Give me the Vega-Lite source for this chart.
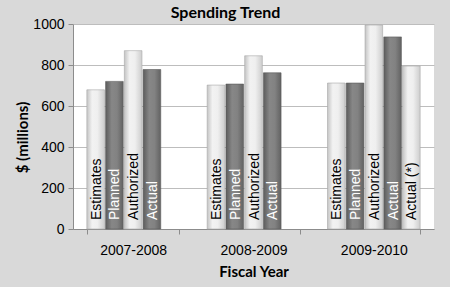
{
  "$schema": "https://vega.github.io/schema/vega-lite/v6.json",
  "width": 361,
  "height": 205,
  "autosize": {"type": "none"},
  "padding": {"left": 73, "top": 24, "right": 16, "bottom": 58},
  "background": "#d9d9d9",
  "title": {
    "text": "Spending Trend",
    "anchor": "middle",
    "dx": -28,
    "dy": 25,
    "baseline": "bottom",
    "offset": 5,
    "font": "Lato",
    "fontSize": 16,
    "fontWeight": "bold",
    "color": "#000000"
  },
  "config": {
    "view": {"fill": "#ffffff", "stroke": null},
    "axis": {
      "labelFont": "Liberation Sans",
      "labelFontSize": 14,
      "labelColor": "#000000",
      "titleFont": "Lato",
      "titleFontSize": 15,
      "titleFontWeight": "bold",
      "titleColor": "#000000",
      "domainColor": "#8c8c8c",
      "tickColor": "#8c8c8c",
      "gridColor": "#bdbdbd",
      "tickSize": 5
    }
  },
  "data": {
    "values": [
      {"year": "2007-2008", "series": "Estimates", "value": 679},
      {"year": "2007-2008", "series": "Planned", "value": 720},
      {"year": "2007-2008", "series": "Authorized", "value": 870},
      {"year": "2007-2008", "series": "Actual", "value": 778},
      {"year": "2008-2009", "series": "Estimates", "value": 702},
      {"year": "2008-2009", "series": "Planned", "value": 707},
      {"year": "2008-2009", "series": "Authorized", "value": 845},
      {"year": "2008-2009", "series": "Actual", "value": 762},
      {"year": "2009-2010", "series": "Estimates", "value": 712},
      {"year": "2009-2010", "series": "Planned", "value": 712},
      {"year": "2009-2010", "series": "Authorized", "value": 995},
      {"year": "2009-2010", "series": "Actual", "value": 937},
      {"year": "2009-2010", "series": "Actual (*)", "value": 795}
    ]
  },
  "encoding": {
    "x": {
      "field": "year",
      "type": "nominal",
      "title": "Fiscal Year",
      "scale": {"paddingInner": 0.23, "paddingOuter": 0.115},
      "axis": {"labelAngle": 0, "tickBand": "extent", "labelPadding": 9, "titlePadding": 7, "grid": false}
    },
    "xOffset": {
      "field": "series",
      "type": "nominal",
      "scale": {
        "domain": ["Estimates", "Planned", "Authorized", "Actual", "Actual (*)"],
        "paddingInner": 0.06,
        "paddingOuter": 0
      }
    }
  },
  "layer": [
    {
      "transform": [{"filter": "datum.series === 'Estimates' || datum.series === 'Authorized' || datum.series === 'Actual (*)'"}],
      "mark": {
        "type": "bar",
        "stroke": "#a8a8a8",
        "strokeWidth": 0.6,
        "color": {
          "gradient": "linear",
          "x1": 0, "y1": 0, "x2": 1, "y2": 0,
          "stops": [
            {"offset": 0, "color": "#c4c4c4"},
            {"offset": 0.3, "color": "#f2f2f2"},
            {"offset": 0.6, "color": "#efefef"},
            {"offset": 1, "color": "#cdcdcd"}
          ]
        }
      },
      "encoding": {
        "y": {
          "field": "value",
          "type": "quantitative",
          "title": "$ (millions)",
          "scale": {"domain": [0, 1000]},
          "axis": {"values": [0, 200, 400, 600, 800, 1000], "format": "d", "labelPadding": 4, "titlePadding": 2, "titleY": 113}
        }
      }
    },
    {
      "transform": [{"filter": "datum.series === 'Planned' || datum.series === 'Actual'"}],
      "mark": {
        "type": "bar",
        "stroke": "#5a5a5a",
        "strokeWidth": 0.6,
        "color": {
          "gradient": "linear",
          "x1": 0, "y1": 0, "x2": 1, "y2": 0,
          "stops": [
            {"offset": 0, "color": "#5c5c5c"},
            {"offset": 0.35, "color": "#878787"},
            {"offset": 0.65, "color": "#828282"},
            {"offset": 1, "color": "#626262"}
          ]
        }
      },
      "encoding": {
        "y": {"field": "value", "type": "quantitative"}
      }
    },
    {
      "mark": {
        "type": "text",
        "angle": 270,
        "align": "left",
        "baseline": "middle",
        "dx": 9,
        "dy": 1,
        "font": "Liberation Sans",
        "fontSize": 14
      },
      "encoding": {
        "y": {"datum": 0, "type": "quantitative"},
        "text": {"field": "series"},
        "color": {
          "field": "series",
          "type": "nominal",
          "legend": null,
          "scale": {
            "domain": ["Estimates", "Planned", "Authorized", "Actual", "Actual (*)"],
            "range": ["#000000", "#ffffff", "#000000", "#ffffff", "#000000"]
          }
        }
      }
    }
  ]
}
